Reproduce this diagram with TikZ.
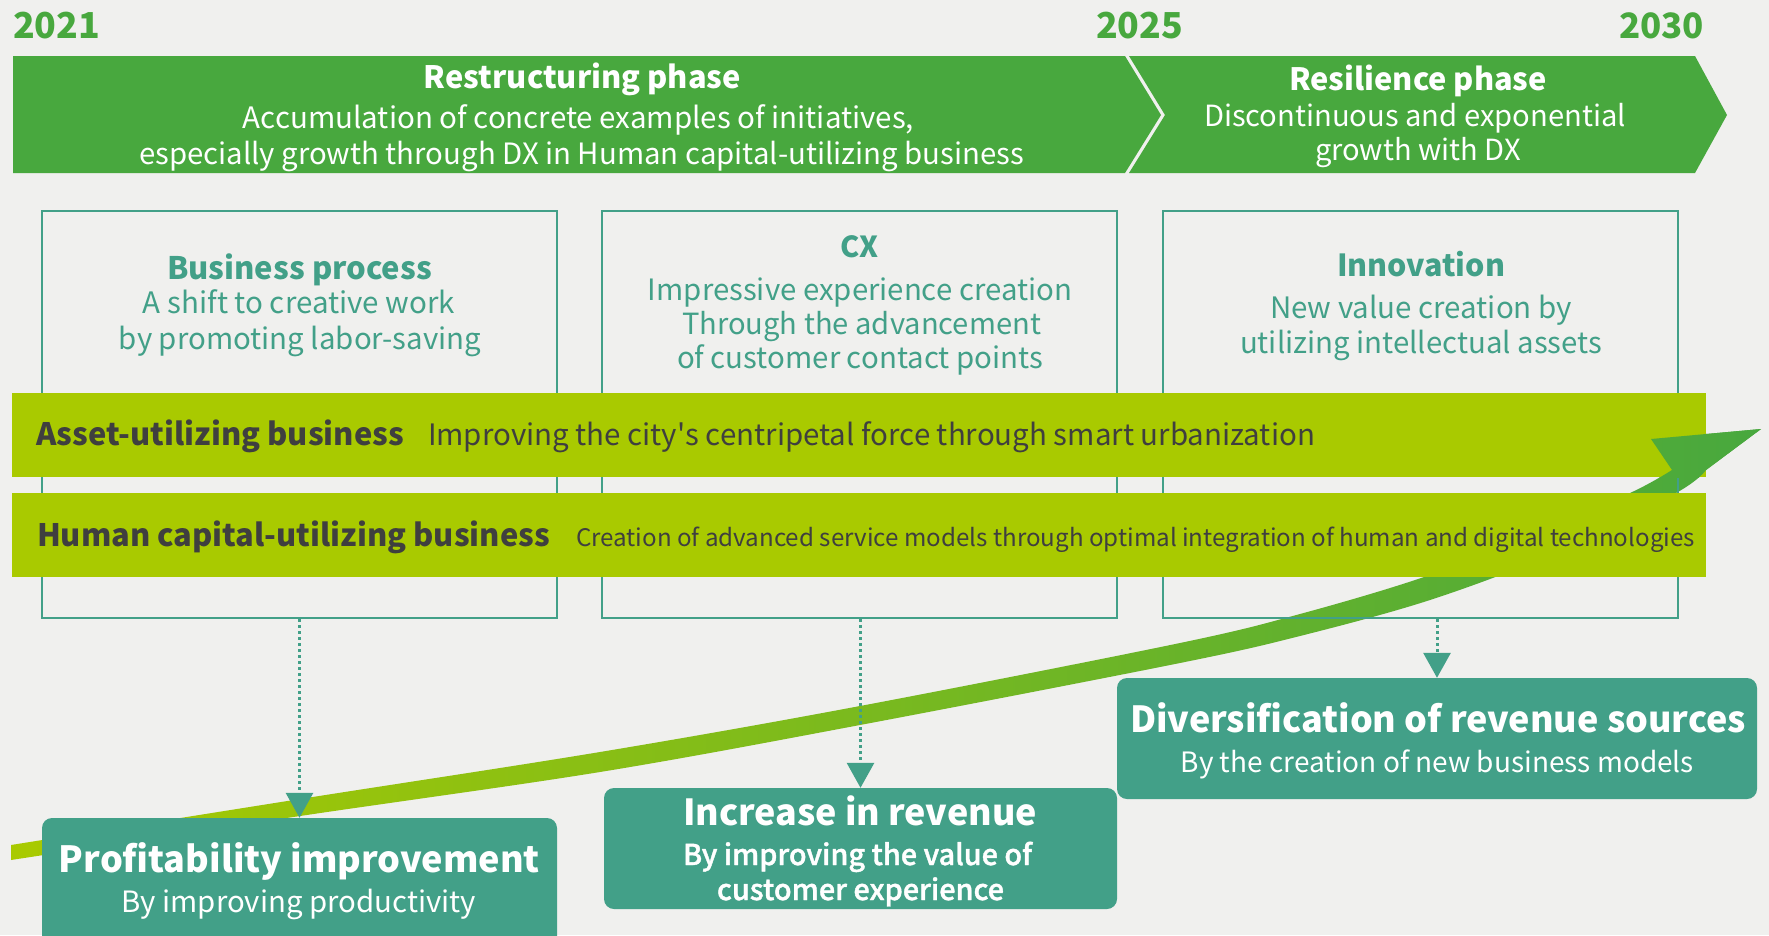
\documentclass[tikz,border=0pt]{standalone}
\usepackage{fontspec}
\setmainfont{Noto Sans CJK JP}
\newfontfamily\medfont{Noto Sans CJK JP}[UprightFont=* Medium, FakeBold=1.3]
\usepackage{graphicx}
\usetikzlibrary{arrows.meta}
\definecolor{cBg}{HTML}{F0F0EE}
\definecolor{cGreen}{HTML}{48A83E}
\definecolor{cLime}{HTML}{A9CA00}
\definecolor{cTeal}{HTML}{42A088}
\definecolor{cDark}{HTML}{3F3F3F}
\newcommand\fw[2]{\resizebox{#1pt}{!}{#2}}
\newcommand\trendshape{%
  \shade[left color=cLime, right color=cGreen]
    plot[smooth,tension=0.55] coordinates {(11,845) (300,799) (600,752) (860,706) (1180,643) (1300,614) (1424,577) (1530,535) (1630,493) (1672,470)}
    -- (1651,439) -- (1761,429) -- (1706,470)
    -- plot[smooth,tension=0.55] coordinates {(1706,470) (1676,493) (1555,553) (1430,600) (1300,636) (1180,663) (860,725) (600,772) (300,816) (11,860)}
    -- cycle;}
\begin{document}
\begin{tikzpicture}[x=1pt,y=-1pt,
  txt/.style={inner sep=0pt, outer sep=0pt, anchor=base, font=\fontsize{30}{36}\selectfont},
  wtxt/.style={txt, text=white},
  ttxt/.style={txt, text=cTeal},
  dtxt/.style={txt, text=cDark, anchor=base west},
  ytxt/.style={txt, text=cGreen},
  areabox/.style={draw=cTeal, line width=2.7pt, inner sep=0pt, minimum width=515pt, minimum height=407pt},
  bar/.style={fill=cLime, inner sep=0pt, minimum width=1694pt, minimum height=84pt},
  outbox/.style={fill=cTeal, rounded corners=10pt, inner sep=0pt},
  dotarrow/.style={draw=cTeal, line width=3pt, dash pattern=on 3pt off 3pt, -{Triangle[width=27pt,length=25pt]}}
]
\useasboundingbox (0,0) rectangle (1769,935);
\clip (0,0) rectangle (1769,935);
\fill[cBg] (0,0) rectangle (1769,935);

% years
\node[ytxt, anchor=base west] (y2021) at (13,38) {\fw{87}{\bfseries 2021}};
\node[ytxt] (y2025) at (1139.5,38) {\fw{87}{\bfseries 2025}};
\node[ytxt] (y2030) at (1661.5,38) {\fw{85}{\bfseries 2030}};

% phase banner
\fill[cGreen] (13,56) -- (1125,56) -- (1161,115) -- (1125,173) -- (13,173) -- cycle;
\fill[cGreen] (1129,56) -- (1695,56) -- (1727,115) -- (1695,173) -- (1129,173) -- (1165,115) -- cycle;
\node[wtxt] (rs1) at (582.5,88) {\fw{317}{\bfseries Restructuring phase}};
\node[wtxt] (rs2) at (578.5,128) {\fw{671}{Accumulation of concrete examples of initiatives,}};
\node[wtxt] (rs3) at (581.5,164) {\fw{885}{especially growth through DX in Human capital-utilizing business}};
\node[wtxt] (rl1) at (1418,90) {\fw{258}{\bfseries Resilience phase}};
\node[wtxt] (rl2) at (1415,126) {\fw{422}{Discontinuous and exponential}};
\node[wtxt] (rl3) at (1418,160) {\fw{206}{growth with DX}};

% trend arrow (shaft)
\trendshape

% area boxes
\node[areabox] (box1) at (299.5,414.5) {};
\node[areabox] (box2) at (859.5,414.5) {};
\node[areabox] (box3) at (1420.5,414.5) {};

\node[ttxt] (b1t) at (299.5,279) {\fw{265}{\bfseries Business process}};
\node[ttxt] (b1a) at (299,313) {\fw{312}{A shift to creative work}};
\node[ttxt] (b1b) at (300,349) {\fw{362}{by promoting labor-saving}};

\node[ttxt] (b2t) at (859,257) {\fw{38}{\bfseries CX}};
\node[ttxt] (b2a) at (860,300) {\fw{424}{Impressive experience creation}};
\node[ttxt] (b2b) at (861.5,334) {\fw{359}{Through the advancement}};
\node[ttxt] (b2c) at (860,368) {\fw{366}{of customer contact points}};

\node[ttxt] (b3t) at (1421,276) {\fw{168}{\bfseries Innovation}};
\node[ttxt] (b3a) at (1421,318) {\fw{302}{New value creation by}};
\node[ttxt] (b3b) at (1421,353) {\fw{362}{utilizing intellectual assets}};

% business bars
\node[bar] (bar1) at (859,435) {};
\node[bar] (bar2) at (859,535) {};
\node[dtxt] (a1) at (36,445) {\fw{368}{\bfseries Asset-utilizing business}};
\node[dtxt] (a2) at (428,445) {\fw{887}{Improving the city\textquotesingle s centripetal force through smart urbanization}};
\node[dtxt] (h1) at (37,546) {\fw{513}{\bfseries Human capital-utilizing business}};
\node[dtxt] (h2) at (576,546) {\fw{1119}{Creation of advanced service models through optimal integration of human and digital technologies}};

% arrowhead over the first bar
\begin{scope}
  \clip (1550,380) rectangle (1769,477);
  \trendshape
\end{scope}

% outcome boxes
\node[outbox, minimum width=515pt, minimum height=132pt] (out1) at (299.5,884) {};
\node[outbox, minimum width=513pt, minimum height=121pt] (out2) at (860.5,848.5) {};
\node[outbox, minimum width=640pt, minimum height=121pt] (out3) at (1437,738.5) {};

\node[wtxt] (o1t) at (299.5,872) {\fw{481}{\bfseries Profitability improvement}};
\node[wtxt] (o1a) at (299,912) {\fw{354}{By improving productivity}};
\node[wtxt] (o2t) at (860,825) {\fw{354}{\bfseries Increase in revenue}};
\node[wtxt] (o2a) at (857.5,865) {\fw{349}{\medfont By improving the value of}};
\node[wtxt] (o2b) at (860.5,900) {\fw{287}{\medfont customer experience}};
\node[wtxt] (o3t) at (1438,732) {\fw{616}{\bfseries Diversification of revenue sources}};
\node[wtxt] (o3a) at (1437.5,772) {\fw{513}{By the creation of new business models}};

% dotted connectors
\draw[dotarrow] (box1.south) -- (out1.north);
\draw[dotarrow] (box2.south -| out2.north) -- (out2.north);
\draw[dotarrow] (box3.south -| out3.north) -- (out3.north);
\end{tikzpicture}
\end{document}
